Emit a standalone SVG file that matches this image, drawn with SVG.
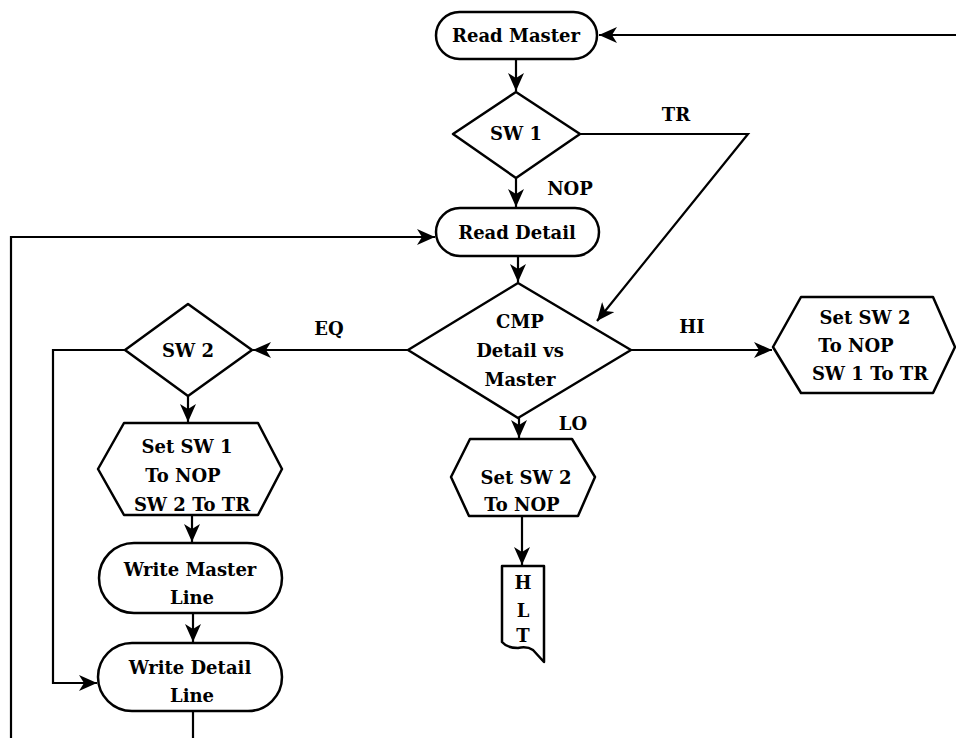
<svg xmlns="http://www.w3.org/2000/svg" width="956" height="738" viewBox="0 0 956 738">
<style>
.s{fill:#fff;stroke:#000;stroke-width:2.5;stroke-linejoin:round}
.c{fill:none;stroke:#000;stroke-width:2.2}
.t{font-family:"DejaVu Serif","Liberation Serif",serif;font-weight:bold;font-size:18px;fill:#000;text-anchor:middle}
</style>
<defs>
<marker id="a" markerUnits="userSpaceOnUse" markerWidth="20" markerHeight="16" refX="18" refY="8" orient="auto">
<path d="M0,0 L18,8 L0,16 L5,8 Z" fill="#000"/>
</marker>
</defs>
<rect width="956" height="738" fill="#fff"/>
<g id="connectors" class="c">
<path d="M956,35 H599" marker-end="url(#a)"/>
<path d="M516,59 V91" marker-end="url(#a)"/>
<path d="M516,178 V207" marker-end="url(#a)"/>
<path d="M580,134 H748 L597,321" marker-end="url(#a)"/>
<path d="M518,256 V282" marker-end="url(#a)"/>
<path d="M631,350 H772" marker-end="url(#a)"/>
<path d="M408,350 H253" marker-end="url(#a)"/>
<path d="M519,418 V438" marker-end="url(#a)"/>
<path d="M522,517 V565" marker-end="url(#a)"/>
<path d="M188,396 V422" marker-end="url(#a)"/>
<path d="M125,350 H53 V683 H97" marker-end="url(#a)"/>
<path d="M11,738 V237 H435" marker-end="url(#a)"/>
<path d="M192,515 V542" marker-end="url(#a)"/>
<path d="M193,613 V642" marker-end="url(#a)"/>
<path d="M193,711 V738"/>
</g>
<g id="read-master">
<rect class="s" x="436" y="12" width="161" height="47" rx="23.5"/>
<text class="t" x="516" y="42">Read Master</text>
</g>
<g id="sw1">
<polygon class="s" points="516,92 580,134 516,178 453,134"/>
<text class="t" x="516" y="140">SW 1</text>
</g>
<g id="read-detail">
<rect class="s" x="436" y="208" width="163" height="48" rx="24"/>
<text class="t" x="517" y="239">Read Detail</text>
</g>
<g id="cmp">
<polygon class="s" points="518,283 631,350 518,418 408,350"/>
<text class="t" x="520" y="328">CMP</text>
<text class="t" x="520" y="357">Detail vs</text>
<text class="t" x="520" y="386">Master</text>
</g>
<g id="hi-set">
<polygon class="s" points="773,347 801,297 933,297 955,347 933,393 801,393"/>
<text class="t" x="865" y="324">Set SW 2</text>
<text class="t" x="856" y="352">To NOP</text>
<text class="t" x="870" y="380">SW 1 To TR</text>
</g>
<g id="sw2">
<polygon class="s" points="188,304 252,350 188,396 125,350"/>
<text class="t" x="188" y="357">SW 2</text>
</g>
<g id="eq-set">
<polygon class="s" points="98,469 124,423 258,423 282,469 258,515 124,515"/>
<text class="t" x="187" y="453">Set SW 1</text>
<text class="t" x="183" y="482">To NOP</text>
<text class="t" x="192" y="511">SW 2 To TR</text>
</g>
<g id="write-master">
<rect class="s" x="99" y="543" width="183" height="70" rx="35"/>
<text class="t" x="190" y="576">Write Master</text>
<text class="t" x="192" y="604">Line</text>
</g>
<g id="write-detail">
<rect class="s" x="98" y="643" width="184" height="68" rx="34"/>
<text class="t" x="190" y="674">Write Detail</text>
<text class="t" x="192" y="702">Line</text>
</g>
<g id="lo-set">
<polygon class="s" points="451,477 470,439 572,439 595,477 578,516 469,516"/>
<text class="t" x="526" y="484">Set SW 2</text>
<text class="t" x="522" y="511">To NOP</text>
</g>
<g id="hlt">
<path class="s" d="M502,566 H544 V662 L533,650 Q527,646 518,648 Q507,648 502,642 Z"/>
<text class="t" x="523" y="589">H</text>
<text class="t" x="523" y="617">L</text>
<text class="t" x="523" y="642">T</text>
</g>
<g id="labels">
<text class="t" x="676" y="121">TR</text>
<text class="t" x="570" y="195">NOP</text>
<text class="t" x="329" y="335">EQ</text>
<text class="t" x="692" y="333">HI</text>
<text class="t" x="573" y="430">LO</text>
</g>
</svg>
